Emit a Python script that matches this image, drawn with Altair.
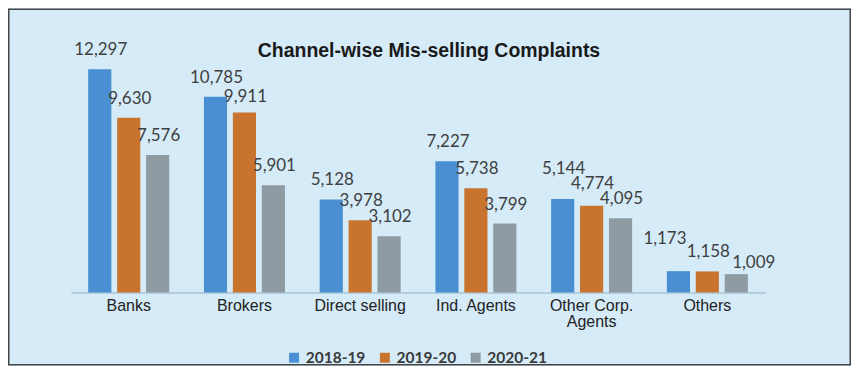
import altair as alt
import pandas as pd

channels = ["Banks", "Brokers", "Direct selling", "Ind. Agents", "Other Corp. Agents", "Others"]
years = ["2018-19", "2019-20", "2020-21"]
v_2018_19 = [12297, 10785, 5128, 7227, 5144, 1173]
v_2019_20 = [9630, 9911, 3978, 5738, 4774, 1158]
v_2020_21 = [7576, 5901, 3102, 3799, 4095, 1009]
colors = ["#4A8FD2", "#C8742F", "#8E9BA3"]
chart_title = "Channel-wise Mis-selling Complaints"

rows = []
for yr, vals in zip(years, [v_2018_19, v_2019_20, v_2020_21]):
    for ch, v in zip(channels, vals):
        rows.append({"channel": ch, "year": yr, "value": v})
df = pd.DataFrame(rows)

W, H = 696, 254.7
PL, PT, PR, PB = 63, 30, 86, 73.3

x = alt.X("channel:N", sort=channels,
          scale=alt.Scale(paddingInner=0.3, paddingOuter=0.15),
          axis=alt.Axis(title=None, labelAngle=0, ticks=False,
                        domainColor="#A9C4D6", domainWidth=1.5,
                        labelFont="Liberation Sans", labelFontSize=16,
                        labelColor="#222222", labelPadding=5,
                        labelLineHeight=16,
                        labelExpr="datum.value == 'Other Corp. Agents' ? ['Other Corp.', 'Agents'] : datum.value"))
xo = alt.XOffset("year:N", sort=years, scale=alt.Scale(paddingInner=0.2))
y = alt.Y("value:Q", scale=alt.Scale(domain=[0, 14000]), axis=None)

base = alt.Chart(df)
bars = base.mark_bar().encode(
    x=x, xOffset=xo, y=y,
    color=alt.Color("year:N", sort=years,
                    scale=alt.Scale(domain=years, range=colors),
                    legend=alt.Legend(title=None, orient="none", direction="horizontal",
                                      legendX=216, legendY=312,
                                      symbolType="square", symbolSize=100,
                                      symbolStrokeWidth=0, labelOffset=4,
                                      columnPadding=11, padding=0,
                                      labelFont="Lato", labelFontWeight="bold",
                                      labelFontSize=15.5, labelColor="#3A3A3A")),
)

label_style = dict(font="Lato", fontSize=17, color="#404040", baseline="alphabetic")
enc = dict(x=x, xOffset=xo, y=y, text=alt.Text("value:Q", format=","))

# label placement like the original (nudged where labels would collide)
special = [
    ("Brokers", "2019-20", 1, -11),
    ("Other Corp. Agents", "2018-19", 1, -25),
    ("Other Corp. Agents", "2019-20", 1, -17),
    ("Others", "2018-19", -13.5, -27),
    ("Others", "2020-21", 17.5, -6),
]
special_expr = " || ".join(
    f"(datum.channel == '{c}' && datum.year == '{yr}')" for c, yr, _, _ in special)

labels = base.mark_text(dy=-14, dx=1, **label_style).encode(**enc).transform_filter(
    f"!({special_expr})")
layers = [bars, labels]
for c, yr, ddx, ddy in special:
    layers.append(base.mark_text(dx=ddx, dy=ddy, **label_style).encode(**enc).transform_filter(
        f"datum.channel == '{c}' && datum.year == '{yr}'"))

one = pd.DataFrame({"t": [chart_title]})
title = alt.Chart(one).mark_text(font="Liberation Sans", fontSize=19.5, fontWeight="bold",
                                 color="#1A1A1A", align="center", baseline="alphabetic").encode(
    text="t:N", x=alt.value(359), y=alt.value(19))

border = alt.Chart(one).mark_rect(
    fill=None, stroke="#444444", strokeWidth=1.5).encode(
    x=alt.value(-PL + 0.75), x2=alt.value(W + PR - 0.75),
    y=alt.value(-PT + 0.75), y2=alt.value(H + PB - 0.75),
)
layers += [title, border]

chart = alt.layer(*layers).properties(
    width=W, height=H,
    padding={"left": PL, "top": PT, "right": PR, "bottom": PB},
    autosize=alt.AutoSizeParams(type="none"),
).configure(background="#D5EBF8").configure_view(stroke=None)

chart.save("out.html", embed_options={"renderer": "svg", "actions": False})
